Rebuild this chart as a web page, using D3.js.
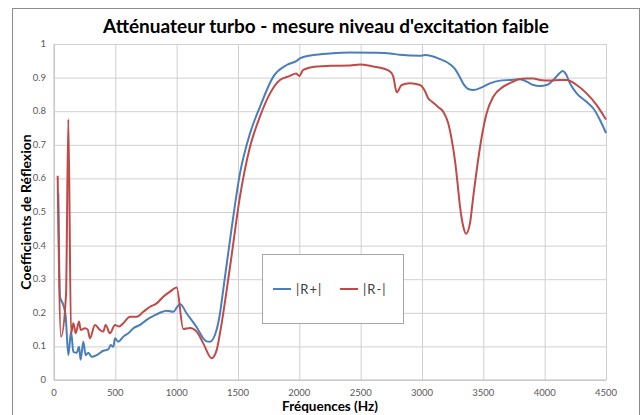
<!DOCTYPE html>
<html>
<head>
<meta charset="utf-8">
<script src="https://cdn.jsdelivr.net/npm/d3@7"></script>
<style>
  body { margin: 0; background: #fff; }
  text { font-family: Lato, "Open Sans", sans-serif; }
</style>
</head>
<body>
<script>
// R+ (blue)
const freqPlus = [35, 49, 76, 95, 117, 139, 158, 185, 204, 217, 239, 258, 280, 307, 348, 402, 443, 462, 484, 497, 524, 565, 606, 647, 701, 755, 823, 864, 918, 973, 1000, 1027, 1082, 1163, 1217, 1245, 1272, 1326, 1353, 1380, 1435, 1516, 1598, 1679, 1788, 1897, 1978, 2005, 2114, 2250, 2413, 2600, 2739, 2820, 2984, 3024, 3147, 3228, 3270, 3310, 3340, 3377, 3418, 3487, 3554, 3636, 3717, 3799, 3853, 3907, 3962, 4016, 4070, 4119, 4147, 4171, 4206, 4261, 4342, 4397, 4451, 4500];
const rPlus = [0.556, 0.248, 0.223, 0.19, 0.074, 0.144, 0.084, 0.081, 0.099, 0.060, 0.114, 0.074, 0.081, 0.069, 0.074, 0.087, 0.091, 0.104, 0.099, 0.124, 0.114, 0.129, 0.139, 0.154, 0.164, 0.179, 0.193, 0.200, 0.206, 0.203, 0.215, 0.226, 0.198, 0.157, 0.124, 0.115, 0.114, 0.150, 0.198, 0.27, 0.417, 0.615, 0.734, 0.813, 0.903, 0.9375, 0.950, 0.957, 0.967, 0.972, 0.975, 0.974, 0.972, 0.968, 0.965, 0.967, 0.955, 0.940, 0.925, 0.900, 0.880, 0.866, 0.863, 0.871, 0.883, 0.891, 0.893, 0.895, 0.888, 0.878, 0.875, 0.878, 0.893, 0.912, 0.920, 0.912, 0.883, 0.853, 0.828, 0.808, 0.774, 0.735];

// R- (red)
const freqMinus = [30, 57, 98, 117, 139, 158, 177, 204, 217, 253, 275, 293, 334, 375, 402, 421, 456, 497, 530, 565, 620, 674, 728, 783, 837, 891, 946, 1000, 1054, 1109, 1163, 1217, 1285, 1326, 1353, 1435, 1516, 1598, 1679, 1761, 1842, 1924, 1973, 2000, 2032, 2141, 2250, 2413, 2494, 2603, 2685, 2739, 2766, 2794, 2834, 2902, 2984, 3024, 3051, 3065, 3092, 3133, 3174, 3214, 3240, 3270, 3290, 3310, 3337, 3359, 3391, 3418, 3446, 3487, 3527, 3581, 3663, 3744, 3785, 3853, 3907, 3962, 4043, 4125, 4179, 4261, 4342, 4424, 4500];
const rMinus = [0.608, 0.129, 0.253, 0.776, 0.139, 0.169, 0.139, 0.174, 0.149, 0.154, 0.150, 0.124, 0.164, 0.149, 0.144, 0.164, 0.139, 0.164, 0.159, 0.169, 0.188, 0.188, 0.203, 0.218, 0.228, 0.248, 0.263, 0.275, 0.152, 0.155, 0.144, 0.109, 0.065, 0.089, 0.139, 0.337, 0.546, 0.694, 0.784, 0.853, 0.893, 0.905, 0.912, 0.905, 0.923, 0.933, 0.935, 0.936, 0.939, 0.933, 0.927, 0.918, 0.903, 0.856, 0.878, 0.883, 0.878, 0.860, 0.838, 0.833, 0.825, 0.812, 0.798, 0.764, 0.72, 0.65, 0.585, 0.516, 0.456, 0.435, 0.466, 0.546, 0.625, 0.724, 0.794, 0.843, 0.873, 0.888, 0.895, 0.897, 0.897, 0.893, 0.891, 0.893, 0.893, 0.878, 0.853, 0.818, 0.775];

const xTicks = [0, 500, 1000, 1500, 2000, 2500, 3000, 3500, 4000, 4500];
const yTicks = [0, 0.1, 0.2, 0.3, 0.4, 0.5, 0.6, 0.7, 0.8, 0.9, 1];
const seriesNames = ["|R+|", "|R-|"];
const seriesColors = ["#4a7ebb", "#be4b48"];

init();

function init() {
  let width = 644, height = 415,
      margin = {l: 54, r: 38, t: 44, b: 35};

  let svg = d3.select("body").append("svg")
              .attr("width", width)
              .attr("height", height);

  // chart frame
  svg.append("rect")
     .attr("x", 12.5).attr("y", 8.5)
     .attr("width", 627).attr("height", 430)
     .attr("fill", "none")
     .attr("stroke", "#8c8c8c");

  let x = d3.scaleLinear().domain([0, 4500]).range([margin.l, width - margin.r]);
  let y = d3.scaleLinear().domain([0, 1]).range([height - margin.b, margin.t]);

  // grid
  svg.append("g")
     .attr("transform", "translate(0," + (height - margin.b) + ")")
     .call(d3.axisBottom(x).tickValues(xTicks).tickSize(-(height - margin.b - margin.t)).tickFormat(""))
     .call(g => g.select(".domain").remove())
     .selectAll("line").attr("stroke", "#d0d0d0");

  svg.append("g")
     .attr("transform", "translate(" + margin.l + ",0)")
     .call(d3.axisLeft(y).tickValues(yTicks).tickSize(-(width - margin.l - margin.r)).tickFormat(""))
     .call(g => g.select(".domain").remove())
     .selectAll("line").attr("stroke", "#d0d0d0");

  // axis lines
  svg.append("line")
     .attr("x1", margin.l).attr("x2", width - margin.r)
     .attr("y1", y(0)).attr("y2", y(0))
     .attr("stroke", "#bfbfbf");
  svg.append("line")
     .attr("x1", margin.l).attr("x2", margin.l)
     .attr("y1", y(0)).attr("y2", y(1))
     .attr("stroke", "#bfbfbf");

  // tick labels
  svg.append("g").selectAll("text")
     .data(xTicks).join("text")
     .attr("x", d => x(d))
     .attr("y", height - margin.b + 16)
     .attr("text-anchor", "middle")
     .attr("font-size", 9.5)
     .attr("fill", "#595959")
     .text(d => d);

  svg.append("g").selectAll("text")
     .data(yTicks).join("text")
     .attr("x", margin.l - 8)
     .attr("y", d => y(d) + 3)
     .attr("text-anchor", "end")
     .attr("font-size", 9.5)
     .attr("fill", "#595959")
     .text(d => d3.format("~g")(d));

  // lines
  let line = d3.line()
               .x(d => x(d[0]))
               .y(d => y(d[1]))
               .curve(d3.curveMonotoneX);

  let series = [
    d3.zip(freqPlus, rPlus),
    d3.zip(freqMinus, rMinus)
  ];

  svg.append("g").selectAll("path")
     .data(series).join("path")
     .attr("d", line)
     .attr("fill", "none")
     .attr("stroke", (d, i) => seriesColors[i])
     .attr("stroke-width", 2)
     .attr("stroke-linejoin", "round");

  // titles
  svg.append("text")
     .attr("x", 326).attr("y", 33)
     .attr("text-anchor", "middle")
     .attr("font-size", 19)
     .attr("font-weight", "bold")
     .attr("fill", "#000")
     .text("Atténuateur turbo - mesure niveau d'excitation faible");

  svg.append("text")
     .attr("x", x(2250)).attr("y", 411)
     .attr("text-anchor", "middle")
     .attr("font-size", 13.5)
     .attr("font-weight", "bold")
     .attr("fill", "#000")
     .text("Fréquences (Hz)");

  svg.append("text")
     .attr("transform", "translate(31," + y(0.5) + ") rotate(-90)")
     .attr("text-anchor", "middle")
     .attr("font-size", 14)
     .attr("font-weight", "bold")
     .attr("fill", "#000")
     .text("Coefficients de Réflexion");

  // legend
  let legend = svg.append("g");
  legend.append("rect")
        .attr("x", 262.5).attr("y", 254.5)
        .attr("width", 141).attr("height", 69)
        .attr("fill", "#fff")
        .attr("stroke", "#a6a6a6");

  let items = legend.selectAll("g.item")
        .data(seriesNames).join("g")
        .attr("class", "item")
        .attr("transform", (d, i) => "translate(" + (273 + i * 67) + ",289)");
  items.append("line")
       .attr("x1", 0).attr("x2", 18)
       .attr("stroke", (d, i) => seriesColors[i])
       .attr("stroke-width", 2);
  items.append("text")
       .attr("x", 23).attr("y", 5)
       .attr("font-size", 13)
       .attr("letter-spacing", 1)
       .attr("fill", "#404040")
       .text(d => d);
}
</script>
</body>
</html>
